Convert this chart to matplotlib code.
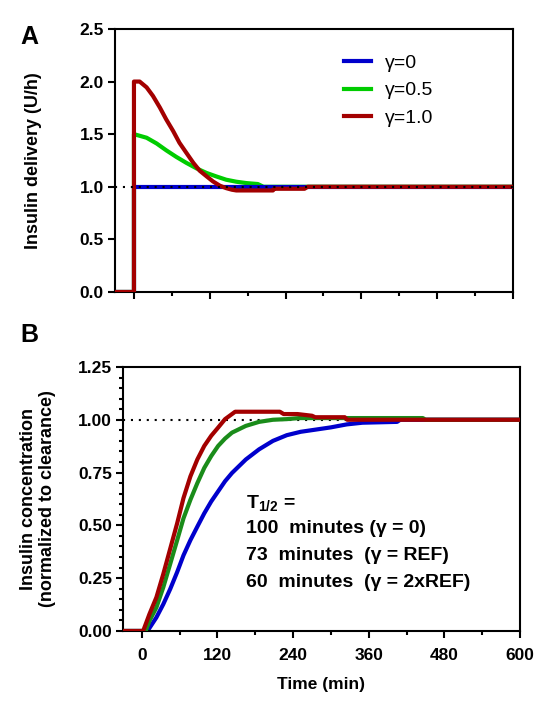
import matplotlib
matplotlib.use('Agg')
import matplotlib.pyplot as plt
from matplotlib.ticker import MultipleLocator

plt.rcParams['font.family'] = ['Liberation Sans', 'DejaVu Sans']
plt.rcParams['mathtext.fontset'] = 'custom'
plt.rcParams['mathtext.rm'] = 'Liberation Sans:bold'
plt.rcParams['mathtext.bf'] = 'Liberation Sans:bold'

# Panel A: insulin delivery (U/h)
a_time_blue = [-30, 0, 0, 600]
a_blue = [0, 0, 1.0, 1.0]
a_time_green = [-30, 0, 0, 20, 36, 51, 67, 83, 99, 115, 130, 146, 162, 178, 196, 205, 600]
a_green = [0, 0, 1.5, 1.466, 1.411, 1.347, 1.284, 1.227, 1.175, 1.131, 1.099, 1.067,
           1.048, 1.035, 1.026, 1.0, 1.0]
a_time_red = [-30, 0, 0, 9, 20, 30, 41, 51, 62, 72, 83, 94, 104, 115, 125, 136, 146,
              155, 162, 220, 222, 270, 275, 600]
a_red = [0, 0, 2.0, 2.0, 1.945, 1.864, 1.753, 1.641, 1.53, 1.418, 1.322, 1.227, 1.153,
         1.099, 1.051, 1.01, 0.987, 0.972, 0.965, 0.965, 0.981, 0.981, 1.0, 1.0]
legend_labels = ['\u03b3=0', '\u03b3=0.5', '\u03b3=1.0']

# Panel B: normalized insulin concentration
b_time_blue = [-30, 9, 23, 34, 45, 56, 66, 77, 88, 99, 110, 121, 132, 143, 165, 186,
               208, 230, 252, 275, 300, 325, 350, 405, 410, 600]
b_blue = [0, 0, 0.064, 0.127, 0.199, 0.279, 0.358, 0.43, 0.494, 0.557, 0.613, 0.661,
          0.709, 0.748, 0.812, 0.86, 0.9, 0.927, 0.943, 0.953, 0.964, 0.978, 0.986,
          0.99, 1.0, 1.0]
b_time_green = [-30, 6, 12, 23, 34, 45, 56, 66, 77, 88, 99, 110, 121, 132, 143, 165,
                186, 208, 230, 250, 446, 450, 600]
b_green = [0, 0, 0.048, 0.111, 0.207, 0.318, 0.43, 0.533, 0.621, 0.70, 0.772, 0.828,
           0.876, 0.911, 0.939, 0.971, 0.99, 1.0, 1.003, 1.008, 1.008, 1.0, 1.0]
b_time_red = [-30, 2, 12, 23, 34, 45, 56, 66, 77, 88, 99, 110, 121, 132, 143, 148,
              219, 225, 247, 270, 275, 322, 326, 600]
b_red = [0, 0, 0.08, 0.159, 0.27, 0.39, 0.51, 0.629, 0.732, 0.812, 0.876, 0.924,
         0.963, 1.003, 1.027, 1.038, 1.038, 1.027, 1.027, 1.019, 1.012, 1.012, 1.0, 1.0]
t_half_lines = ['100  minutes (\u03b3 = 0)',
                '73  minutes  (\u03b3 = REF)',
                '60  minutes  (\u03b3 = 2xREF)']

blue = '#0000CC'
green_a = '#00CC00'
green_b = '#1A8C1A'
red = '#A30000'
lw = 3

fig = plt.figure(figsize=(5.43, 7.08), dpi=100)
ax_a = fig.add_axes([0.2118, 0.5876, 0.733, 0.3715])
ax_b = fig.add_axes([0.2265, 0.1088, 0.731, 0.3729])


def style_axes(ax):
    for s in ax.spines.values():
        s.set_linewidth(1.5)
    ax.tick_params(which='major', direction='out', length=5, width=1.5, labelsize=12.5, pad=3)
    ax.tick_params(which='minor', direction='out', length=3, width=1.5)
    for lab in ax.get_xticklabels() + ax.get_yticklabels():
        lab.set_fontweight('bold')


# ---- panel A ----
ax_a.plot(a_time_green, a_green, color=green_a, lw=lw, label=legend_labels[1], zorder=2)
ax_a.plot(a_time_blue, a_blue, color=blue, lw=lw, label=legend_labels[0], zorder=3)
ax_a.plot(a_time_red, a_red, color=red, lw=lw, label=legend_labels[2], zorder=4)
ax_a.axhline(1.0, color='black', lw=1.5, linestyle=(0, (1, 2.8)), zorder=5)
ax_a.set_xlim(-30, 600)
ax_a.set_ylim(0, 2.5)
ax_a.xaxis.set_major_locator(MultipleLocator(120))
ax_a.xaxis.set_minor_locator(MultipleLocator(60))
ax_a.set_yticks([0, 0.5, 1.0, 1.5, 2.0, 2.5])
ax_a.set_yticklabels(['0.0', '0.5', '1.0', '1.5', '2.0', '2.5'])
ax_a.set_xticklabels([])
style_axes(ax_a)
ax_a.set_ylabel('Insulin delivery (U/h)', fontsize=13, fontweight='bold')
ax_a.yaxis.set_label_coords(-0.183, 0.5)

handles, labels = ax_a.get_legend_handles_labels()
order = [1, 0, 2]
ax_a.legend([handles[i] for i in order], [labels[i] for i in order],
            loc='upper left', bbox_to_anchor=(0.55, 0.94), frameon=False,
            fontsize=14, handlelength=1.4, handletextpad=0.7, labelspacing=0.5,
            borderpad=0)

# ---- panel B ----
ax_b.axhline(1.0, color='black', lw=1.5, linestyle=(0, (1, 2.8)), zorder=1)
ax_b.plot(b_time_blue, b_blue, color=blue, lw=lw, zorder=2)
ax_b.plot(b_time_green, b_green, color=green_b, lw=lw, zorder=3)
ax_b.plot(b_time_red, b_red, color=red, lw=lw, zorder=4)
ax_b.set_xlim(-30, 600)
ax_b.set_ylim(0, 1.25)
ax_b.set_xticks([0, 120, 240, 360, 480, 600])
ax_b.xaxis.set_minor_locator(MultipleLocator(60))
ax_b.set_yticks([0, 0.25, 0.5, 0.75, 1.0, 1.25])
ax_b.set_yticklabels(['0.00', '0.25', '0.50', '0.75', '1.00', '1.25'])
ax_b.yaxis.set_minor_locator(MultipleLocator(0.05))
style_axes(ax_b)
ax_b.tick_params(axis='x', which='major', pad=7)
ax_b.set_xlabel('Time (min)', fontsize=12.5, fontweight='bold', labelpad=10)
ax_b.set_ylabel('Insulin concentration\n(normalized to clearance)', fontsize=13,
                fontweight='bold', linespacing=1.15)
ax_b.yaxis.set_label_coords(-0.17, 0.5)

ax_b.text(165, 0.6, r'T$_{1/2}$ =', fontsize=14, fontweight='bold', va='center', ha='left')
for i, line in enumerate(t_half_lines):
    ax_b.text(165, 0.485 - i * 0.128, line, fontsize=14, fontweight='bold',
              va='center', ha='left')

fig.text(0.055, 0.948, 'A', fontsize=18, fontweight='bold', ha='center', va='center')
fig.text(0.055, 0.527, 'B', fontsize=18, fontweight='bold', ha='center', va='center')

fig.savefig('out.png', dpi=100)
